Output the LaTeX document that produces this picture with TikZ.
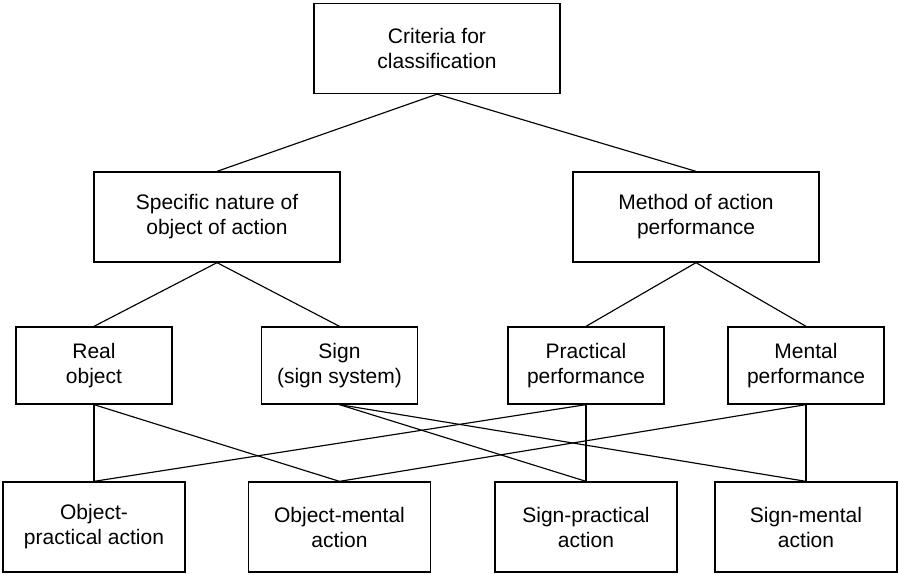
\documentclass[tikz,border=0pt]{standalone}
\usepackage{fontspec}
\setmainfont{Liberation Sans}
\begin{document}
\begin{tikzpicture}[x=1pt,y=-1pt,
  box/.style={draw, line width=1.3pt, rectangle, align=center, inner sep=0pt,
    font=\fontsize{21}{25}\selectfont},
  wide/.style={box, minimum width=246pt, minimum height=90pt},
  mid/.style={box, minimum width=156pt, minimum height=77pt},
  low/.style={box, minimum width=182pt, minimum height=90pt},
  link/.style={line width=1.15pt}]
\useasboundingbox (0,0) rectangle (898,575);

% root
\node[wide] (root) at (437,48.5) {Criteria for\\classification};

% criteria
\node[wide] (nature) at (217,217) {Specific nature of\\object of action};
\node[wide] (method) at (696,217) {Method of action\\performance};

% values of each criterion
\node[mid] (real) at (94,365.5) {Real\\object};
\node[mid] (sign) at (339.5,365.5) {Sign\\(sign system)};
\node[mid] (prac) at (586,365.5) {Practical\\performance};
\node[mid] (ment) at (806,365.5) {Mental\\performance};

% resulting action types
\node[low] (objprac) at (94,527) {Object-\\practical action};
\node[low] (objment) at (339.5,527) {Object-mental\\action};
\node[low] (signprac) at (586,527) {Sign-practical\\action};
\node[low] (signment) at (806,527) {Sign-mental\\action};

% tree links
\draw[link] (root.south) -- (nature.north);
\draw[link] (root.south) -- (method.north);
\draw[link] (nature.south) -- (real.north);
\draw[link] (nature.south) -- (sign.north);
\draw[link] (method.south) -- (prac.north);
\draw[link] (method.south) -- (ment.north);

% combinations
\draw[link] (real.south) -- (objprac.north);
\draw[link] (real.south) -- (objment.north);
\draw[link] (sign.south) -- (signprac.north);
\draw[link] (sign.south) -- (signment.north);
\draw[link] (prac.south) -- (objprac.north);
\draw[link] (prac.south) -- (signprac.north);
\draw[link] (ment.south) -- (objment.north);
\draw[link] (ment.south) -- (signment.north);
\end{tikzpicture}
\end{document}
